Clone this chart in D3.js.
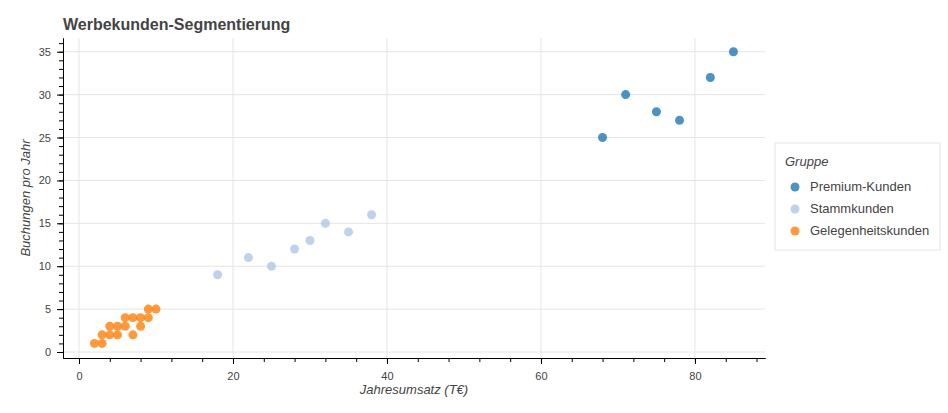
<!DOCTYPE html>
<html><head><meta charset="utf-8">
<script src="https://cdn.jsdelivr.net/npm/d3@7"></script>
<style>body{margin:0;background:#fff;font-family:"Liberation Sans",Arial,sans-serif}</style>
</head><body>
<svg id="chart" width="948" height="413"></svg>
<script>
let groups = ["Premium-Kunden", "Stammkunden", "Gelegenheitskunden"]
let colors = ["#1f77b4", "#aec7e8", "#ff7f0e"]
let premiumX = [68, 71, 75, 78, 82, 85]
let premiumY = [25, 30, 28, 27, 32, 35]
let stammX = [18, 22, 25, 28, 30, 32, 35, 38]
let stammY = [9, 11, 10, 12, 13, 15, 14, 16]
let gelegenX = [2, 3, 3, 4, 4, 5, 5, 6, 6, 7, 7, 8, 8, 9, 9, 10]
let gelegenY = [1, 1, 2, 2, 3, 3, 2, 3, 4, 4, 2, 4, 3, 4, 5, 5]

let series = [[premiumX, premiumY], [stammX, stammY], [gelegenX, gelegenY]]

let svg = d3.select('#chart')
let m = {left: 63, right: 765, top: 38, bottom: 358}

let x = d3.scaleLinear().domain([-2.08, 89.1]).range([m.left, m.right])
let y = d3.scaleLinear().domain([-0.7, 36.6]).range([m.bottom, m.top])

// grid
svg.append('g').selectAll('line').data(x.ticks(5)).enter().append('line')
    .attr('x1', d => x(d)).attr('x2', d => x(d)).attr('y1', m.top).attr('y2', m.bottom)
    .attr('stroke', '#e5e5e5')
svg.append('g').selectAll('line').data(d3.range(0, 36, 5)).enter().append('line')
    .attr('x1', m.left).attr('x2', m.right).attr('y1', d => y(d)).attr('y2', d => y(d))
    .attr('stroke', '#e5e5e5')

// points
series.forEach((s, i) => {
    svg.append('g').selectAll('circle').data(s[0]).enter().append('circle')
        .attr('cx', d => x(d)).attr('cy', (d, j) => y(s[1][j])).attr('r', 4.5)
        .attr('fill', colors[i]).attr('fill-opacity', 0.8)
})

// axes
let xAxis = svg.append('g').attr('transform', 'translate(0,' + m.bottom + ')')
    .call(d3.axisBottom(x).tickValues(d3.range(0, 81, 20)).tickSize(6).tickSizeOuter(0).tickPadding(8))
svg.append('g').attr('transform', 'translate(0,' + m.bottom + ')')
    .call(d3.axisBottom(x).tickValues(d3.range(0, 89, 4)).tickSize(4).tickFormat('').tickSizeOuter(0))
let yAxis = svg.append('g').attr('transform', 'translate(' + m.left + ',0)')
    .call(d3.axisLeft(y).tickValues(d3.range(0, 36, 5)).tickSize(6).tickSizeOuter(0).tickPadding(6))
svg.append('g').attr('transform', 'translate(' + m.left + ',0)')
    .call(d3.axisLeft(y).tickValues(d3.range(0, 37, 1)).tickSize(4).tickFormat('').tickSizeOuter(0))
svg.selectAll('.domain').attr('stroke', '#000')
svg.selectAll('.tick line').attr('stroke', '#000')
svg.selectAll('.tick text').attr('fill', '#444').style('font-size', '11px')
    .style('font-family', '"Liberation Sans",Arial,sans-serif')

// labels
svg.append('text').attr('x', m.left).attr('y', 30).text('Werbekunden-Segmentierung')
    .style('font-size', '16px').style('font-weight', 'bold').attr('fill', '#444')
svg.append('text').attr('x', (m.left + m.right) / 2).attr('y', 394).attr('text-anchor', 'middle')
    .text('Jahresumsatz (T€)').style('font-size', '13px').style('font-style', 'italic').attr('fill', '#444')
svg.append('text').attr('transform', 'translate(30,' + ((m.top + m.bottom) / 2) + ') rotate(-90)')
    .attr('text-anchor', 'middle').text('Buchungen pro Jahr')
    .style('font-size', '13px').style('font-style', 'italic').attr('fill', '#444')

// legend
let lg = svg.append('g').attr('transform', 'translate(775,143)')
lg.append('rect').attr('width', 165).attr('height', 107).attr('fill', '#fff').attr('stroke', '#e5e5e5')
lg.append('text').attr('x', 10).attr('y', 23).text('Gruppe').style('font-size', '13px')
    .style('font-style', 'italic').attr('fill', '#444')
groups.forEach((g, i) => {
    lg.append('circle').attr('cx', 20).attr('cy', 44 + i * 22).attr('r', 4.5)
        .attr('fill', colors[i]).attr('fill-opacity', 0.8)
    lg.append('text').attr('x', 35).attr('y', 48 + i * 22).text(g)
        .style('font-size', '13px').attr('fill', '#444')
})
</script>
</body></html>
